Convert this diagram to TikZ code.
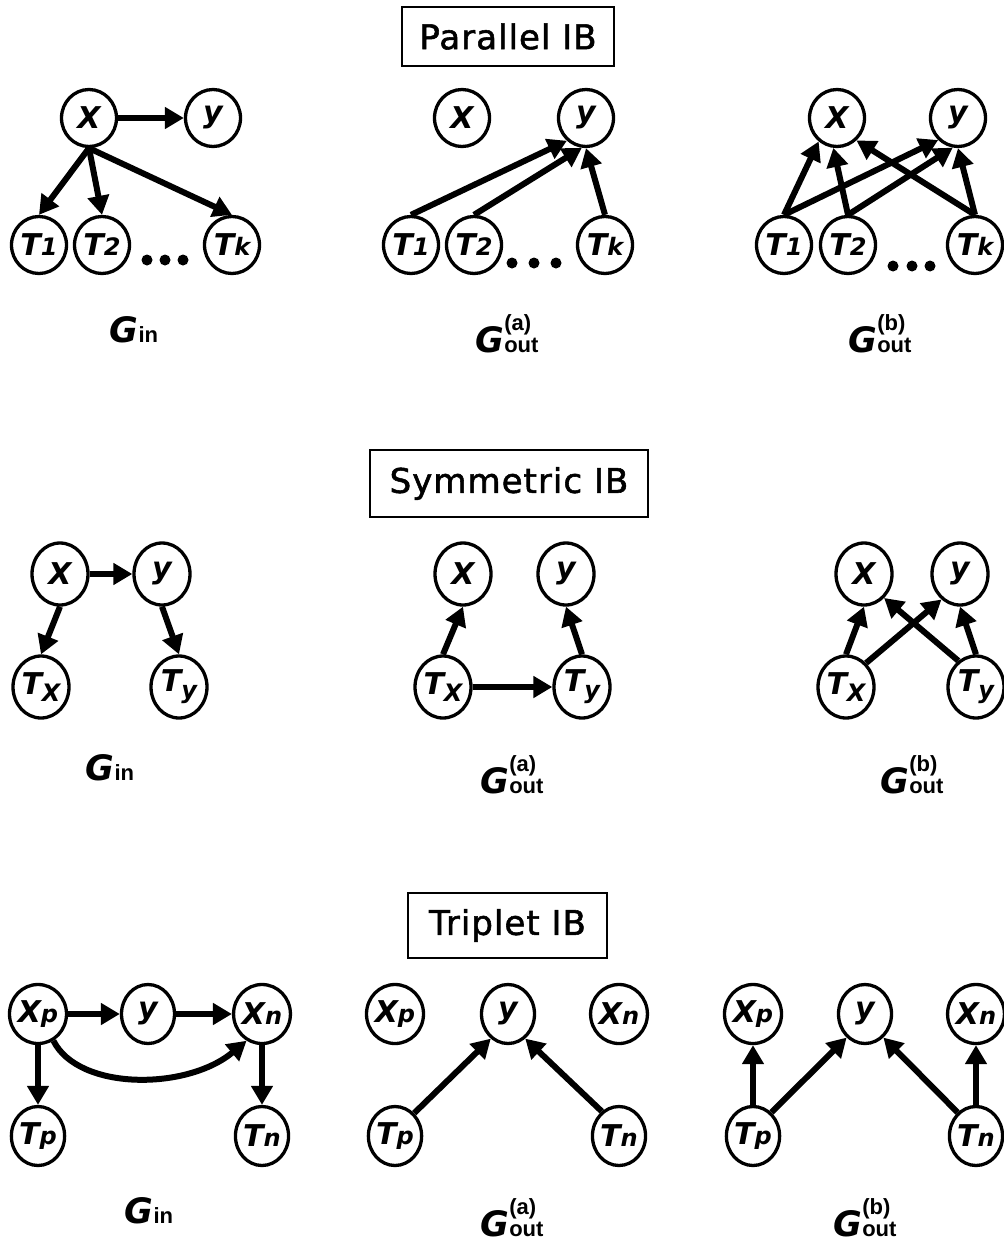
\documentclass[tikz,border=0pt]{standalone}
\usepackage{fontspec}
\usetikzlibrary{arrows.meta,shapes.geometric}

\newfontfamily\titlefam{DejaVu Sans}[LetterSpace=3,FakeBold=1.6]
\newfontfamily\varfam{DejaVu Sans}
\newfontfamily\arialfam{Liberation Sans}

% variable names inside the nodes
\newcommand\varfont{\varfam\bfseries\itshape\fontsize{30}{30}\selectfont}
\newcommand\smallsub[1]{{\fontsize{24}{24}\selectfont #1}}
\newcommand\lowsub[1]{\raisebox{-7pt}{\fontsize{24}{24}\selectfont #1}}
% graph captions
\newcommand\gsym{{\varfam\bfseries\itshape\fontsize{35}{35}\selectfont G}}
\newcommand\captxt{\arialfam\bfseries\fontsize{22}{22}\selectfont}
\newcommand\gin{\gsym{\captxt in}}
\newcommand\gout[1]{\gsym{\captxt\begin{tabular}[b]{@{}l@{}}(#1)\\out\end{tabular}}}

\tikzset{
  var/.style={ellipse, draw, line width=3.3pt, inner sep=0pt, font=\varfont},
  vA/.style={var, minimum width=55pt, minimum height=57pt},
  vB/.style={var, minimum width=56pt, minimum height=62pt},
  vC/.style={var, minimum width=53pt, minimum height=59pt},
  edge/.style={line width=6pt, -{Triangle[length=19pt,width=21pt]}},
  titlebox/.style={draw, line width=1.3pt, inner sep=0pt,
    font=\titlefam\fontsize{34}{34}\selectfont},
  caption/.style={anchor=base, inner sep=0pt},
  dot/.style={circle, fill, inner sep=0pt, minimum size=11pt},
}

\begin{document}
\begin{tikzpicture}[x=1pt,y=-1pt]
\useasboundingbox[fill=white] (0,0) rectangle (1004,1245);

% ---------------- Parallel IB ----------------
\node[titlebox, minimum width=212pt, minimum height=59pt] (title1) at (508,36.5) {Parallel IB};

% G_in
\node[vA] (a-X)  at (89,118)  {X};
\node[vA] (a-Y)  at (213,118) {y};
\node[vA] (a-T1) at (39,245)  {T\smallsub{1}};
\node[vA] (a-T2) at (102,245) {T\smallsub{2}};
\node[vA] (a-Tk) at (232,245) {T\smallsub{k}};
\node[dot] (a-d1) at (147,260) {};
\node[dot] (a-d2) at (165,260) {};
\node[dot] (a-d3) at (183,260) {};
\node[caption] (a-G) at (134,342) {\gin};
\draw[edge] (a-X.east) -- (a-Y.west);
\draw[edge] (a-X.south) -- (a-T1.north);
\draw[edge] (a-X.south) -- (a-T2.north);
\draw[edge] (a-X.south) -- (a-Tk.north);

% G_out^(a)
\node[vA] (b-X)  at (462,118) {X};
\node[vA] (b-Y)  at (586,118) {y};
\node[vA] (b-T1) at (411,245) {T\smallsub{1}};
\node[vA] (b-T2) at (474,245) {T\smallsub{2}};
\node[vA] (b-Tk) at (605,245) {T\smallsub{k}};
\node[dot] (b-d1) at (512,263) {};
\node[dot] (b-d2) at (534,263) {};
\node[dot] (b-d3) at (556,263) {};
\node[caption] (b-G) at (507,352) {\gout{a}};
\draw[edge] (b-T1.north) -- (b-Y.230);
\draw[edge] (b-T2.north) -- (b-Y.262);
\draw[edge] (b-Tk.north) -- (b-Y.south);

% G_out^(b)
\node[vA] (c-X)  at (837,118) {X};
\node[vA] (c-Y)  at (958,118) {y};
\node[vA] (c-T1) at (784,245) {T\smallsub{1}};
\node[vA] (c-T2) at (848,245) {T\smallsub{2}};
\node[vA] (c-Tk) at (975,245) {T\smallsub{k}};
\node[dot] (c-d1) at (893,266) {};
\node[dot] (c-d2) at (912,266) {};
\node[dot] (c-d3) at (930,266) {};
\node[caption] (c-G) at (880,352) {\gout{b}};
\draw[edge] (c-T1.north) -- (c-X.232);
\draw[edge] (c-T1.north) -- (c-Y.228);
\draw[edge] (c-T2.north) -- (c-X.263);
\draw[edge] (c-T2.north) -- (c-Y.260);
\draw[edge] (c-Tk.north) -- (c-X.311);
\draw[edge] (c-Tk.north) -- (c-Y.south);

% ---------------- Symmetric IB ----------------
\node[titlebox, minimum width=278pt, minimum height=67pt] (title2) at (509,483.5) {Symmetric IB};

% G_in
\node[vB] (d-X)  at (60,574)  {X};
\node[vB] (d-Y)  at (162,574) {y};
\node[vB] (d-Tx) at (41,687)  {T\lowsub{X}};
\node[vB] (d-Ty) at (179,687) {T\lowsub{y}};
\node[caption] (d-G) at (110,780) {\gin};
\draw[edge] (d-X.east) -- (d-Y.west);
\draw[edge] (d-X.south) -- (d-Tx.north);
\draw[edge] (d-Y.south) -- (d-Ty.north);

% G_out^(a)
\node[vB] (e-X)  at (463,574) {X};
\node[vB] (e-Y)  at (566,574) {y};
\node[vB] (e-Tx) at (443,687) {T\lowsub{X}};
\node[vB] (e-Ty) at (582,687) {T\lowsub{y}};
\node[caption] (e-G) at (512,793) {\gout{a}};
\draw[edge] (e-Tx.north) -- (e-X.south);
\draw[edge] (e-Ty.north) -- (e-Y.south);
\draw[edge] (e-Tx.east) -- (e-Ty.west);

% G_out^(b)
\node[vB] (f-X)  at (864,574) {X};
\node[vB] (f-Y)  at (960,574) {y};
\node[vB] (f-Tx) at (846,687) {T\lowsub{X}};
\node[vB] (f-Ty) at (976,687) {T\lowsub{y}};
\node[caption] (f-G) at (912,793) {\gout{b}};
\draw[edge] (f-Tx.north) -- (f-X.south);
\draw[edge] (f-Tx.50) -- (f-Y.234);
\draw[edge] (f-Ty.124) -- (f-X.310);
\draw[edge] (f-Ty.north) -- (f-Y.south);

% ---------------- Triplet IB ----------------
\node[titlebox, minimum width=199pt, minimum height=65pt] (title3) at (507.5,925.5) {Triplet IB};

% G_in
\node[vC] (g-Xp) at (38,1014)  {X\smallsub{p}};
\node[vC] (g-Y)  at (148,1014) {y};
\node[vC] (g-Xn) at (262,1014) {X\smallsub{n}};
\node[vC] (g-Tp) at (38,1136)  {T\smallsub{p}};
\node[vC] (g-Tn) at (262,1136) {T\smallsub{n}};
\node[caption] (g-G) at (149,1223) {\gin};
\draw[edge] (g-Xp.east) -- (g-Y.west);
\draw[edge] (g-Y.east) -- (g-Xn.west);
\draw[edge] (g-Xp.south) -- (g-Tp.north);
\draw[edge] (g-Xn.south) -- (g-Tn.north);
\draw[edge] (g-Xp.300) .. controls +(25,50) and +(-60,50) .. (g-Xn.240);

% G_out^(a)
\node[vC] (h-Xp) at (395,1014) {X\smallsub{p}};
\node[vC] (h-Y)  at (508,1014) {y};
\node[vC] (h-Xn) at (619,1014) {X\smallsub{n}};
\node[vC] (h-Tp) at (395,1136) {T\smallsub{p}};
\node[vC] (h-Tn) at (619,1136) {T\smallsub{n}};
\node[caption] (h-G) at (512,1236) {\gout{a}};
\draw[edge] (h-Tp.50) -- (h-Y.235);
\draw[edge] (h-Tn.125) -- (h-Y.305);

% G_out^(b)
\node[vC] (i-Xp) at (753,1014) {X\smallsub{p}};
\node[vC] (i-Y)  at (865,1014) {y};
\node[vC] (i-Xn) at (976,1014) {X\smallsub{n}};
\node[vC] (i-Tp) at (753,1136) {T\smallsub{p}};
\node[vC] (i-Tn) at (976,1136) {T\smallsub{n}};
\node[caption] (i-G) at (865,1236) {\gout{b}};
\draw[edge] (i-Tp.north) -- (i-Xp.south);
\draw[edge] (i-Tp.52) -- (i-Y.232);
\draw[edge] (i-Tn.128) -- (i-Y.308);
\draw[edge] (i-Tn.north) -- (i-Xn.south);
\end{tikzpicture}
\end{document}
